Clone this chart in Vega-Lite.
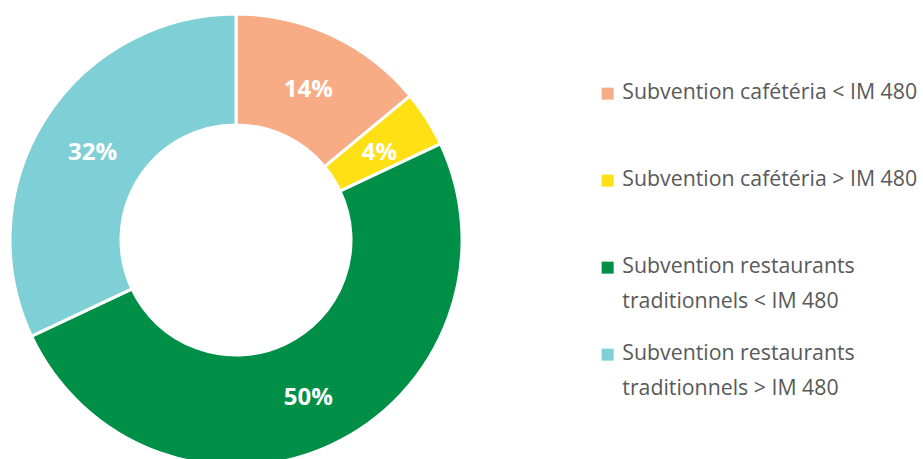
{
  "$schema": "https://vega.github.io/schema/vega-lite/v6.json",
  "width": 472,
  "height": 480,
  "autosize": {"type": "none"},
  "padding": {"left": 0, "top": 0, "right": 451, "bottom": 0},
  "background": "white",
  "view": {"stroke": null},
  "config": {"style": {"guide-label": {"lineHeight": 35, "dy": -12}}},
  "data": {
    "values": [
      {"cat": "Subvention cafétéria < IM 480", "value": 14, "ord": 1, "label": "14%"},
      {"cat": "Subvention cafétéria > IM 480", "value": 4, "ord": 2, "label": "4%"},
      {"cat": "Subvention restaurants traditionnels < IM 480", "value": 50, "ord": 3, "label": "50%"},
      {"cat": "Subvention restaurants traditionnels > IM 480", "value": 32, "ord": 4, "label": "32%"}
    ]
  },
  "encoding": {
    "theta": {"field": "value", "type": "quantitative", "stack": true},
    "order": {"field": "ord", "type": "quantitative"}
  },
  "layer": [
    {
      "mark": {"type": "arc", "radius": 226, "radius2": 115, "stroke": "white", "strokeWidth": 3},
      "encoding": {
        "color": {
          "field": "cat",
          "type": "nominal",
          "sort": null,
          "scale": {
            "domain": [
              "Subvention cafétéria < IM 480",
              "Subvention cafétéria > IM 480",
              "Subvention restaurants traditionnels < IM 480",
              "Subvention restaurants traditionnels > IM 480"
            ],
            "range": ["#F8AC85", "#FFE015", "#008F47", "#7FCFD6"]
          },
          "legend": {
            "title": null,
            "orient": "none",
            "legendX": 597,
            "legendY": 83,
            "symbolType": "square",
            "symbolSize": 144,
            "symbolStrokeWidth": 0,
            "labelFont": "Open Sans",
            "labelFontSize": 21.3,
            "labelColor": "#595959",
            "labelLimit": 400,
            "labelOffset": 4,
            "labelBaseline": "top",
            "rowPadding": 30,
            "labelExpr": "indexof(datum.label, 'restaurants') > 0 ? [slice(datum.label, 0, 22), slice(datum.label, 23)] : [datum.label, '']"
          }
        }
      }
    },
    {
      "mark": {"type": "text", "radius": 170, "dy": 4, "font": "Open Sans", "fontWeight": "bold", "fontSize": 24, "fill": "white"},
      "encoding": {
        "detail": {"field": "cat"},
        "text": {"field": "label"}
      }
    }
  ]
}
